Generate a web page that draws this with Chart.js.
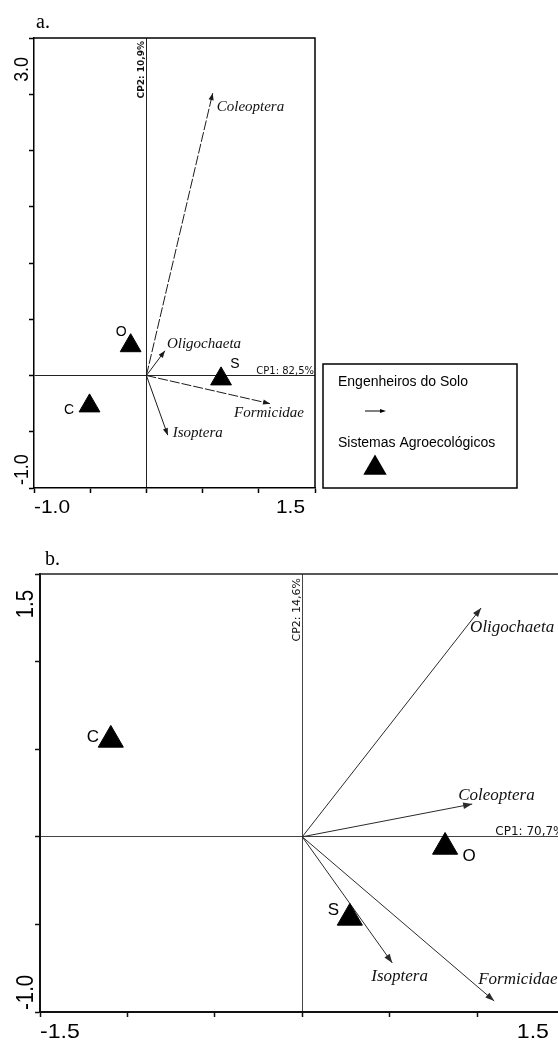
<!DOCTYPE html>
<html><head><meta charset="utf-8">
<script src="https://cdn.jsdelivr.net/npm/chart.js@4.4.1/dist/chart.umd.min.js"></script>
<style>
html,body{margin:0;padding:0;background:#fff;overflow:hidden;width:558px;height:1041px;}
#wrap{position:relative;width:558px;height:1041px;overflow:hidden;background:#fff;}
canvas{position:absolute;left:0;}
#ca{top:0;} #cb{top:520px;}
</style></head><body>
<div id="wrap"><canvas id="ca" width="558" height="520"></canvas><canvas id="cb" width="580" height="521"></canvas></div>
<script>
// ---------- DATA: panel a ----------
const speciesA = ['Coleoptera', 'Oligochaeta', 'Formicidae', 'Isoptera'];
const arrowXA  = [0.59, 0.165, 1.10, 0.19];
const arrowYA  = [2.51, 0.22, -0.25, -0.53];
const systemsA = ['O', 'S', 'C'];
const sysXA    = [-0.14, 0.664, -0.506];
const sysYA    = [0.265, -0.03, -0.27];
const xTickLabelsA = ['-1.0', '1.5'];
const yTickLabelsA = ['3.0', '-1.0'];
const cp1A = 'CP1: 82,5%';
const cp2A = 'CP2: 10,9%';
const legendTitles = ['Engenheiros do Solo', 'Sistemas Agroecológicos'];

// ---------- DATA: panel b ----------
const speciesB = ['Oligochaeta', 'Coleoptera', 'Isoptera', 'Formicidae'];
const arrowXB  = [1.023, 0.972, 0.515, 1.098];
const arrowYB  = [1.306, 0.187, -0.72, -0.937];
const systemsB = ['C', 'O', 'S'];
const sysXB    = [-1.095, 0.817, 0.272];
const sysYB    = [0.553, -0.058, -0.463];
const xTickLabelsB = ['-1.5', '1.5'];
const yTickLabelsB = ['1.5', '-1.0'];
const cp1B = 'CP1: 70,7%';
const cp2B = 'CP2: 14,6%';

// ---------- styling / label offsets (pixels) ----------
const PA = {
  name: 'a', panelLabel: 'a.', panelLabelPos: [36, 28], panelFont: '20px "Liberation Serif"',
  species: speciesA, arrowX: arrowXA, arrowY: arrowYA,
  systems: systemsA, sysX: sysXA, sysY: sysYA,
  xMin: -1.0, xMax: 1.5, yMin: -1.0, yMax: 3.0,
  padding: {left: 29, top: 38, right: 243, bottom: 27},
  triR: 12, arrowColor: '#1a1a1a', arrowWidth: 1,
  dash: [[10, 2], [], [10, 2], []],
  headLen: 7, headW: 2.6,
  speciesFont: 'italic 15px "Liberation Serif"',
  speciesOff: [[4, 14], [2, -7], [-36, 9], [5, -2]],
  sysFont: '14px "Liberation Sans"',
  sysOff: [[-9.5, -13.5], [14, -14.5], [-20.5, 4.5]],
  axisColor: '#000', axisWidth: 1.5, zeroColor: '#222', boxColor: '#000', boxWidth: 1.5,
  xTickLabels: xTickLabelsA, yTickLabels: yTickLabelsA,
  xLabFont: '19px "Liberation Sans"', xLabScale: 1.1, xLabBase: 25, xLabRightOff: 10,
  yLabFont: '21px "Liberation Sans"', yLabScale: 0.85, yLabBaseX: 6, yLabTopOff: 19, yLabBotOff: 3,
  cp1: cp1A, cp2: cp2A, cp1Font: '10px "DejaVu Sans"', cp2Font: 'bold 9px "DejaVu Sans"', cp2TopOff: 3, cp1RightOff: 1,
  legend: true
};
const PB = {
  name: 'b', panelLabel: 'b.', panelLabelPos: [45, 45], panelFont: '20px "Liberation Serif"',
  species: speciesB, arrowX: arrowXB, arrowY: arrowYB,
  systems: systemsB, sysX: sysXB, sysY: sysYB,
  xMin: -1.5, xMax: 1.5, yMin: -1.0, yMax: 1.5,
  padding: {left: 35, top: 54, right: 14.4, bottom: 24},
  triR: 14.5, arrowColor: '#2a2a2a', arrowWidth: 1,
  dash: [[], [], [], []],
  headLen: 9, headW: 3.2,
  speciesFont: 'italic 17px "Liberation Serif"',
  speciesOff: [[-11, 20], [-14, -9], [-21, 14], [-16, -21]],
  sysFont: '17px "Liberation Sans"',
  sysOff: [[-18, -3], [24, 9], [-16.5, -8]],
  axisColor: '#111', axisWidth: 2, zeroColor: '#444', boxColor: '#222', boxWidth: 1.5,
  xTickLabels: xTickLabelsB, yTickLabels: yTickLabelsB,
  xLabFont: '21px "Liberation Sans"', xLabScale: 1.1, xLabBase: 26, xLabRightOff: 15.6,
  yLabFont: '24px "Liberation Sans"', yLabScale: 0.85, yLabBaseX: 7, yLabTopOff: 16, yLabBotOff: 2,
  cp1: cp1B, cp2: cp2B, cp1Font: '12px "DejaVu Sans"', cp2Font: '11px "DejaVu Sans"', cp2TopOff: 4, cp1RightOff: 0,
  legend: false
};

function drawHead(ctx, x, y, ang, len, w, color) {
  ctx.save();
  ctx.translate(x, y);
  ctx.rotate(ang);
  ctx.fillStyle = color;
  ctx.beginPath();
  ctx.moveTo(0, 0);
  ctx.lineTo(-len, -w);
  ctx.lineTo(-len, w);
  ctx.closePath();
  ctx.fill();
  ctx.restore();
}

function panelPlugin(P) {
  return {
    id: 'panel' + P.name,
    afterDatasetsDraw(chart) {
      const ctx = chart.ctx, a = chart.chartArea;
      const xs = chart.scales.x, ys = chart.scales.y;
      const ox = xs.getPixelForValue(0), oy = ys.getPixelForValue(0);
      ctx.save();
      // plot box (top + right)
      ctx.strokeStyle = P.boxColor; ctx.lineWidth = P.boxWidth;
      ctx.beginPath();
      ctx.moveTo(a.left, a.top); ctx.lineTo(a.right, a.top); ctx.lineTo(a.right, a.bottom);
      ctx.stroke();

      // arrowheads + species labels
      P.species.forEach((name, i) => {
        const meta = chart.getDatasetMeta(i + 1);
        const p0 = meta.data[0], p1 = meta.data[1];
        const ang = Math.atan2(p1.y - p0.y, p1.x - p0.x);
        drawHead(ctx, p1.x, p1.y, ang, P.headLen, P.headW, P.arrowColor);
        ctx.font = P.speciesFont; ctx.fillStyle = '#111';
        ctx.textAlign = 'left'; ctx.textBaseline = 'middle';
        ctx.fillText(name, p1.x + P.speciesOff[i][0], p1.y + P.speciesOff[i][1]);
      });
      // system labels
      const m0 = chart.getDatasetMeta(0);
      P.systems.forEach((s, i) => {
        const el = m0.data[i];
        ctx.font = P.sysFont; ctx.fillStyle = '#000';
        ctx.textAlign = 'center'; ctx.textBaseline = 'middle';
        ctx.fillText(s, el.x + P.sysOff[i][0], el.y + P.sysOff[i][1]);
      });

      // axis percentage labels
      ctx.fillStyle = '#111';
      ctx.font = P.cp1Font; ctx.textAlign = 'right'; ctx.textBaseline = 'alphabetic';
      ctx.fillText(P.cp1, a.right - P.cp1RightOff, oy - 2);
      ctx.save();
      ctx.translate(ox - 2, a.top + P.cp2TopOff);
      ctx.rotate(-Math.PI / 2);
      ctx.font = P.cp2Font; ctx.textAlign = 'right'; ctx.textBaseline = 'alphabetic';
      ctx.fillText(P.cp2, 0, 0);
      ctx.restore();

      // x tick labels (first + last)
      ctx.fillStyle = '#000';
      ctx.font = P.xLabFont; ctx.textBaseline = 'alphabetic';
      ctx.save();
      ctx.translate(xs.getPixelForValue(P.xMin), a.bottom + P.xLabBase);
      ctx.scale(P.xLabScale, 1); ctx.textAlign = 'left';
      ctx.fillText(P.xTickLabels[0], 0, 0);
      ctx.restore();
      ctx.save();
      ctx.translate(xs.getPixelForValue(P.xMax) - P.xLabRightOff, a.bottom + P.xLabBase);
      ctx.scale(P.xLabScale, 1); ctx.textAlign = 'right';
      ctx.fillText(P.xTickLabels[1], 0, 0);
      ctx.restore();

      // y tick labels (rotated)
      ctx.font = P.yLabFont;
      ctx.save();
      ctx.translate(a.left - P.yLabBaseX, ys.getPixelForValue(P.yMax) + P.yLabTopOff);
      ctx.rotate(-Math.PI / 2); ctx.scale(P.yLabScale, 1);
      ctx.textAlign = 'right';
      ctx.fillText(P.yTickLabels[0], 0, 0);
      ctx.restore();
      ctx.save();
      ctx.translate(a.left - P.yLabBaseX, ys.getPixelForValue(P.yMin) - P.yLabBotOff);
      ctx.rotate(-Math.PI / 2); ctx.scale(P.yLabScale, 1);
      ctx.textAlign = 'left';
      ctx.fillText(P.yTickLabels[1], 0, 0);
      ctx.restore();

      // panel label
      ctx.font = P.panelFont; ctx.textAlign = 'left'; ctx.textBaseline = 'alphabetic';
      ctx.fillText(P.panelLabel, P.panelLabelPos[0], P.panelLabelPos[1]);

      // legend box
      if (P.legend) {
        const L = a.right + 8, B = a.bottom, W = 194, H = 124, T = B - H;
        ctx.strokeStyle = '#000'; ctx.lineWidth = 1.5;
        ctx.strokeRect(L, T, W, H);
        ctx.font = '14px "Liberation Sans"'; ctx.fillStyle = '#000';
        ctx.textAlign = 'left'; ctx.textBaseline = 'middle';
        ctx.fillText(legendTitles[0], L + 15, T + 18);
        ctx.fillText(legendTitles[1], L + 15, T + 79);
        ctx.strokeStyle = '#000'; ctx.lineWidth = 1;
        ctx.beginPath(); ctx.moveTo(L + 42, T + 47); ctx.lineTo(L + 58, T + 47); ctx.stroke();
        drawHead(ctx, L + 63, T + 47, 0, 6, 2, '#000');
        const r = 13.5, cx = L + 52, cy = T + 104;
        ctx.fillStyle = '#000';
        ctx.beginPath();
        ctx.moveTo(cx, cy - r);
        ctx.lineTo(cx + r * Math.sin(2 * Math.PI / 3), cy + r / 2);
        ctx.lineTo(cx - r * Math.sin(2 * Math.PI / 3), cy + r / 2);
        ctx.closePath(); ctx.fill();
      }
      ctx.restore();
    }
  };
}

function buildChart(id, P) {
  const datasets = [{
    data: P.sysX.map((x, i) => ({x: x, y: P.sysY[i]})),
    pointStyle: 'triangle', pointRadius: P.triR, pointHoverRadius: P.triR,
    backgroundColor: '#000', borderColor: '#000', borderWidth: 1, showLine: false
  }];
  P.species.forEach((s, i) => datasets.push({
    data: [{x: 0, y: 0}, {x: P.arrowX[i], y: P.arrowY[i]}],
    showLine: true, pointRadius: 0, pointHoverRadius: 0,
    borderColor: P.arrowColor, borderWidth: P.arrowWidth, borderDash: P.dash[i], fill: false
  }));
  const gridColor = c => (c.tick && Math.abs(c.tick.value) < 1e-9) ? P.zeroColor : 'rgba(0,0,0,0)';
  return new Chart(document.getElementById(id), {
    type: 'scatter',
    data: {datasets: datasets},
    options: {
      responsive: false, animation: false, devicePixelRatio: 1, events: [],
      layout: {padding: P.padding},
      plugins: {legend: {display: false}, tooltip: {enabled: false}},
      scales: {
        x: {type: 'linear', min: P.xMin, max: P.xMax,
            ticks: {display: false, stepSize: 0.5},
            grid: {color: gridColor, lineWidth: 1, tickColor: P.axisColor, tickLength: 5, tickWidth: 1.5},
            border: {display: true, color: P.axisColor, width: P.axisWidth}},
        y: {type: 'linear', min: P.yMin, max: P.yMax,
            ticks: {display: false, stepSize: 0.5},
            grid: {color: gridColor, lineWidth: 1, tickColor: P.axisColor, tickLength: 5, tickWidth: 1.5},
            border: {display: true, color: P.axisColor, width: P.axisWidth}}
      }
    },
    plugins: [panelPlugin(P)]
  });
}

buildChart('ca', PA);
buildChart('cb', PB);
</script>
</body></html>
